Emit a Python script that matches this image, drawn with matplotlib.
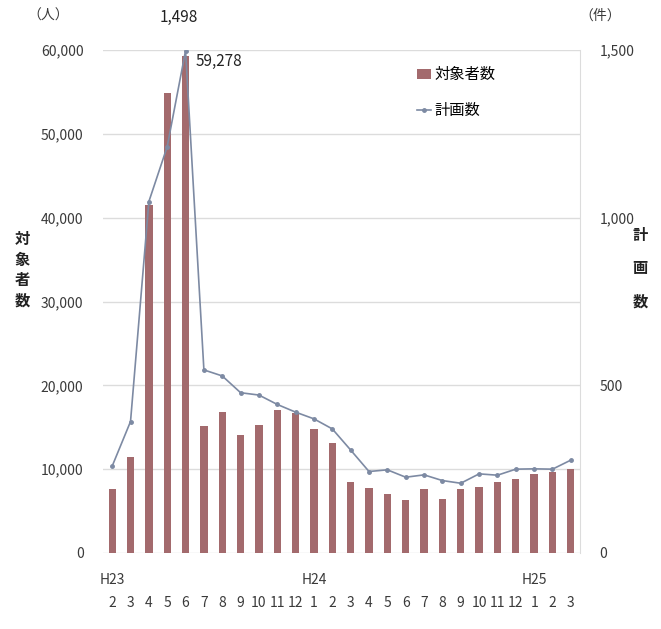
import matplotlib
matplotlib.use("Agg")
import matplotlib.pyplot as plt
from matplotlib.lines import Line2D
from matplotlib.patches import Patch

plt.rcParams['font.family'] = ['Noto Sans CJK JP', 'DejaVu Sans']

# Monthly data, H23/2 through H25/3
months = ["2", "3", "4", "5", "6", "7", "8", "9", "10", "11", "12",
          "1", "2", "3", "4", "5", "6", "7", "8", "9", "10", "11", "12",
          "1", "2", "3"]
era_labels = {0: "H23", 11: "H24", 23: "H25"}
subjects = [7600, 11500, 41500, 54900, 59278, 15150, 16860, 14075, 15300, 17060, 16740,
            14760, 13160, 8500, 7720, 7040, 6320, 7600, 6440, 7600, 7900, 8500, 8830,
            9460, 9650, 9990]
plans = [259, 392, 1048, 1212, 1498, 546, 528, 478, 471, 443, 420,
         400, 370, 307, 243, 248, 226, 233, 216, 208, 236, 232, 250,
         251, 250, 277]

bar_color = "#a36a6d"
line_color = "#7d8aa3"
text_color = "#3a3a3a"
grid_color = "#dcdcdc"

fig = plt.figure(figsize=(6.61, 6.29), dpi=100)
ax = fig.add_axes([103 / 661, 1 - 553 / 629, 477 / 661, 503 / 629])
ax2 = ax.twinx()

x = list(range(len(months)))
ax.bar(x, subjects, width=0.4, color=bar_color, zorder=2)
ax2.plot(x, plans, color=line_color, lw=1.2, marker="o", ms=2.5, zorder=3)

ax.set_xlim(-0.5, len(months) - 0.5)
ax.set_ylim(0, 60000)
ax2.set_ylim(0, 1500)
ax.set_yticks(range(0, 60001, 10000))
ax.set_yticklabels([f"{v:,}" for v in range(0, 60001, 10000)])
ax2.set_yticks([0, 500, 1000, 1500])
ax2.set_yticklabels([f"{v:,}" for v in [0, 500, 1000, 1500]])
ax.yaxis.grid(True, color=grid_color, lw=1, zorder=0)
ax.set_axisbelow(True)

for a in (ax, ax2):
    a.tick_params(length=0, labelsize=10, labelcolor=text_color)
    for s in a.spines.values():
        s.set_visible(False)
ax.tick_params(axis="y", pad=14)
ax2.tick_params(axis="y", pad=14)
ax2.spines["right"].set_visible(True)
ax2.spines["right"].set_color(grid_color)

ax.set_xticks(x)
ax.set_xticklabels(months, fontsize=10, color=text_color)
ax.tick_params(axis="x", pad=31)
for i, lab in era_labels.items():
    ax.text(i, -0.04, lab, transform=ax.get_xaxis_transform(), ha="center",
            va="top", fontsize=10, color=text_color)

# Axis titles and units
fig.text(48 / 661, 1 - 16 / 629, "（人）", ha="center", va="center", fontsize=10, color=text_color)
fig.text(600 / 661, 1 - 16 / 629, "（件）", ha="center", va="center", fontsize=10, color=text_color)
fig.text(22 / 661, 1 - 270 / 629, "対\n象\n者\n数", ha="center", va="center",
         fontsize=11, fontweight="bold", color="#222222", linespacing=1.35)
fig.text(640 / 661, 1 - 268 / 629, "計\n\n画\n\n数", ha="center", va="center",
         fontsize=11, fontweight="bold", color="#222222", linespacing=1.05)

# Peak value annotations
peak = subjects.index(max(subjects))
ax.annotate(f"{subjects[peak]:,}", (peak, subjects[peak]), xytext=(7, -4),
            textcoords="offset points", fontsize=11, color="#222222", va="center")
ax2.annotate(f"{plans[peak]:,}", (peak, plans[peak]), xytext=(-5, 24),
             textcoords="offset points", fontsize=11, color="#222222", ha="center", va="center")

handles = [Patch(facecolor=bar_color, edgecolor="none"),
           Line2D([0], [0], color=line_color, lw=1.2, marker="o", ms=2.5)]
ax.legend(handles, ["対象者数", "計画数"], loc="upper left", bbox_to_anchor=(0.63, 0.995),
          frameon=False, fontsize=11, handlelength=0.9, handletextpad=0.2,
          labelspacing=1.25)

fig.savefig("out.png", dpi=100)
